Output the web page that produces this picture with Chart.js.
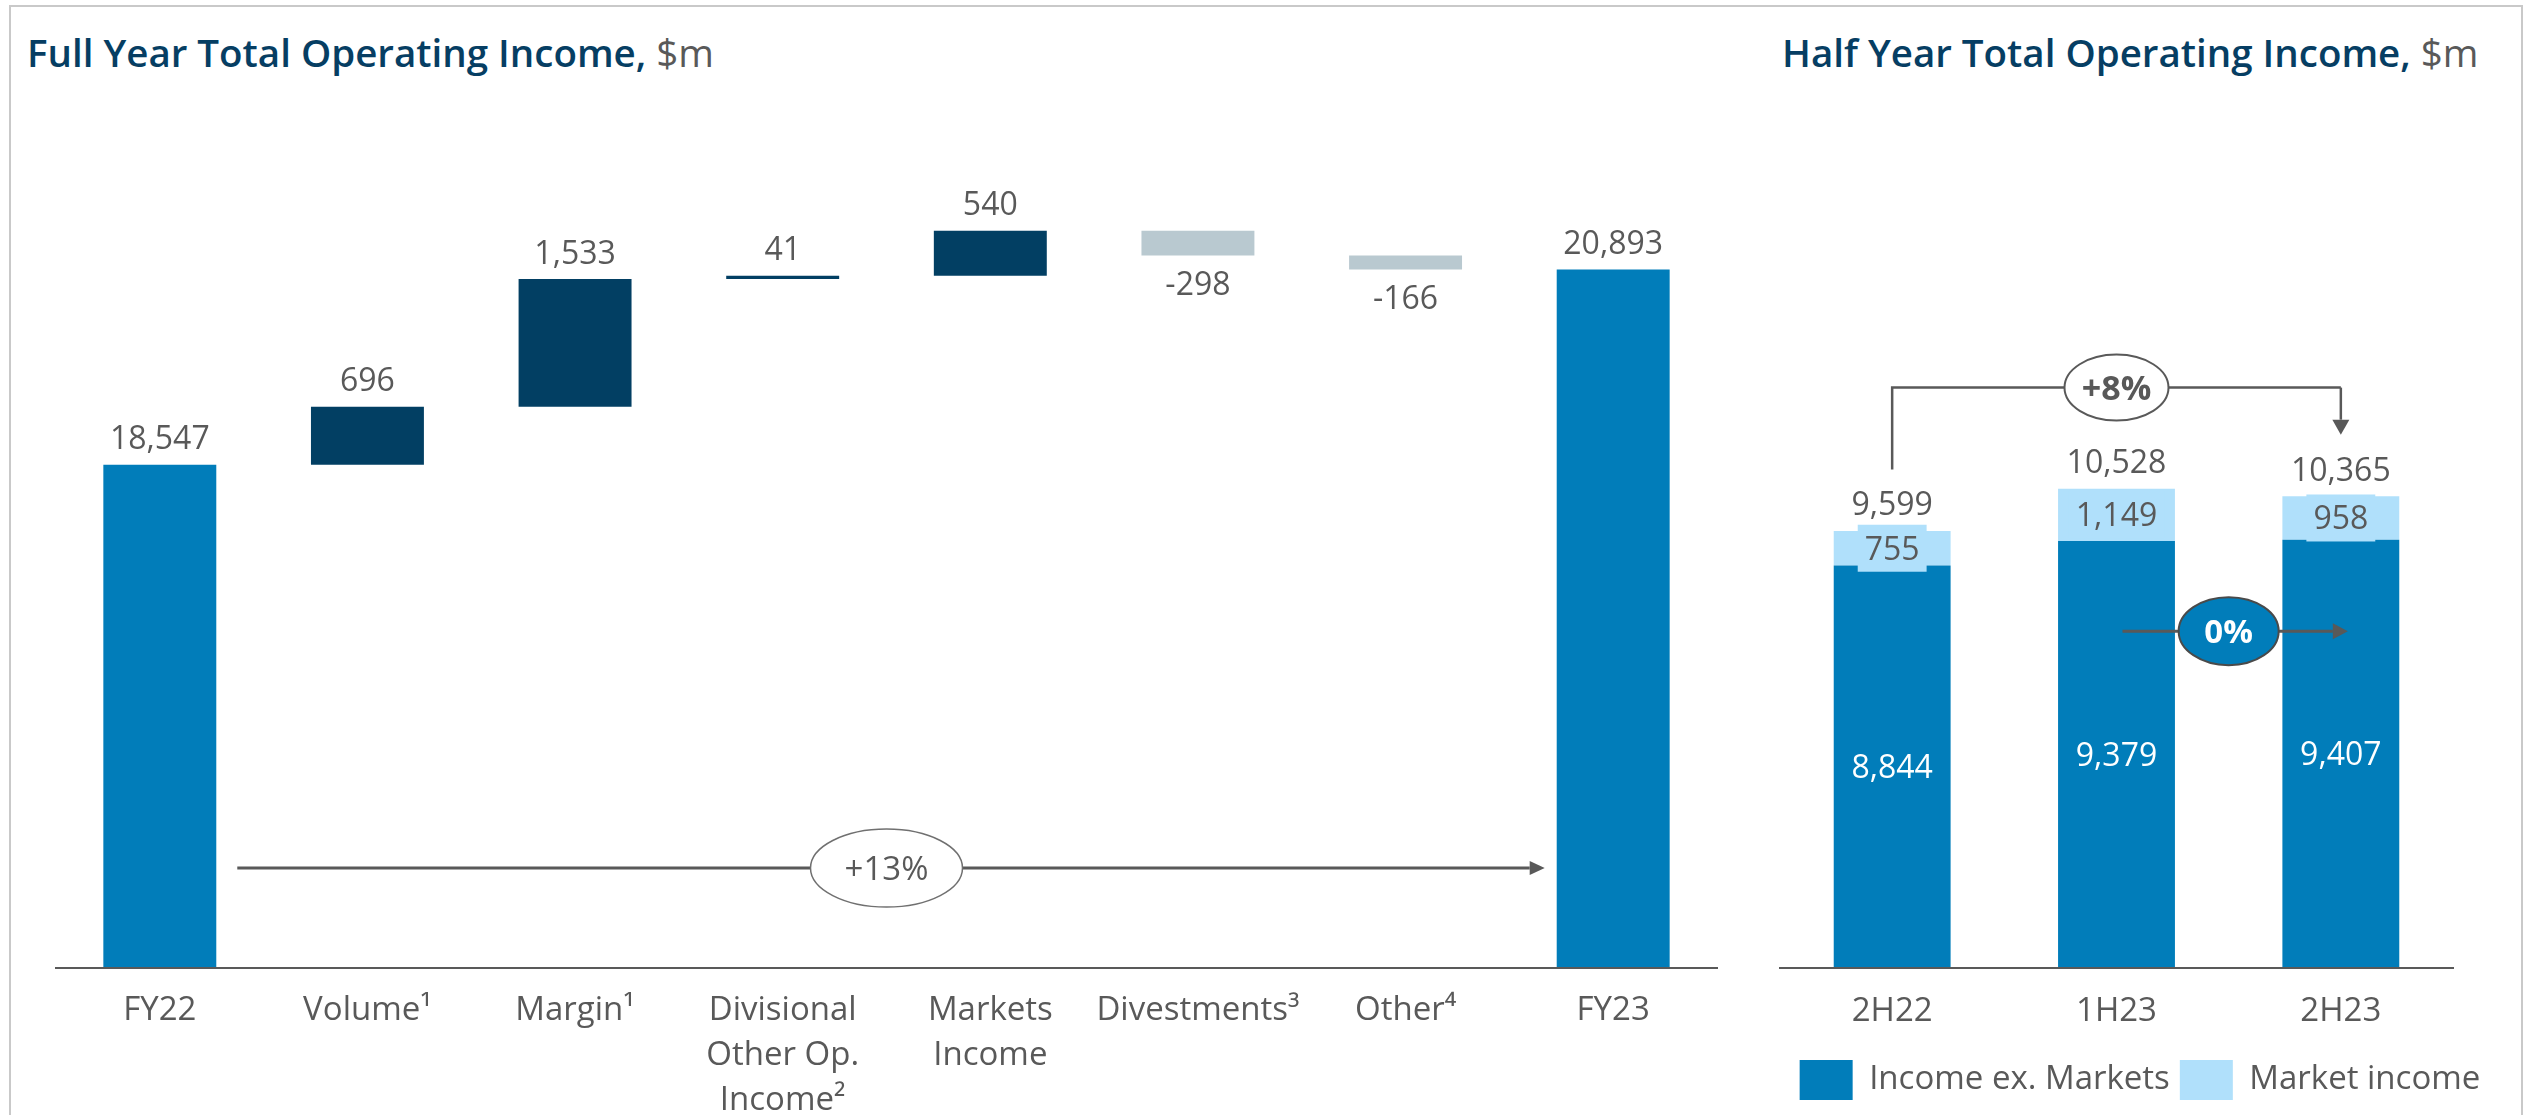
<!DOCTYPE html>
<html>
<head>
<meta charset="utf-8">
<script src="https://cdn.jsdelivr.net/npm/chart.js@4.4.1/dist/chart.umd.min.js"></script>
<style>
  html, body { margin: 0; padding: 0; background: #fff; }
  body { width: 2523px; height: 1115px; position: relative; overflow: hidden; font-family: 'Open Sans', sans-serif; }
  .frame { position: absolute; left: 9px; top: 5px; width: 2510px; height: 1200px; border: 2px solid #c9c9c9; }
  .title { position: absolute; top: 33px; font-size: 38.5px; line-height: 38.5px; font-weight: 600; color: #063e63; white-space: nowrap; }
  .title span { font-weight: 400; color: #595959; }
  canvas { position: absolute; top: 0; }
</style>
</head>
<body>
<div class="frame"></div>
<div class="title" style="left:27px">Full Year Total Operating Income, <span>$m</span></div>
<div class="title" style="left:1782px">Half Year Total Operating Income, <span>$m</span></div>
<canvas id="fyChart" width="1760" height="1115" style="left:0"></canvas>
<canvas id="hyChart" width="770" height="1115" style="left:1740px"></canvas>
<script>
// Full year bridge
const fyLabels = ['FY22', 'Volume¹', 'Margin¹', ['Divisional', 'Other Op.', 'Income²'], ['Markets', 'Income'], 'Divestments³', 'Other⁴', 'FY23'];
const fyValues = [18547, 696, 1533, 41, 540, -298, -166, 20893];
const fyKinds = ['total', 'step', 'step', 'step', 'step', 'step', 'step', 'total'];
const fyGrowth = '+13%';

// Half year split
const hyLabels = ['2H22', '1H23', '2H23'];
const incomeExMarkets = [8844, 9379, 9407];
const marketIncome = [755, 1149, 958];
const hyGrowth = '+8%';
const exMarketsGrowth = '0%';

const GRAY = '#595959';
const FONT = "'Open Sans', sans-serif";
Chart.defaults.font.family = FONT;
Chart.defaults.color = GRAY;

const FY_MIN = 12500;
const FY_MAX = 23000;

// waterfall: 各要素の [開始, 終了] を作る
let running = 0;
const fyBars = fyValues.map((v, i) => {
    if (fyKinds[i] === 'total') {
        running = v;
        return [FY_MIN, v];
    }
    const start = running;
    running += v;
    return [start, running];
});
const fyColors = fyValues.map((v, i) => fyKinds[i] === 'total' ? '#017dba' : (v >= 0 ? '#023f63' : '#b9c9d0'));

const fmt = v => v.toLocaleString('en-US');

function drawArrow(ctx, x0, y0, x1, y1, head, halfW, color, width) {
    const a = Math.atan2(y1 - y0, x1 - x0);
    const bx = x1 - Math.cos(a) * head;
    const by = y1 - Math.sin(a) * head;
    ctx.strokeStyle = color;
    ctx.lineWidth = width;
    ctx.beginPath();
    ctx.moveTo(x0, y0);
    ctx.lineTo(bx, by);
    ctx.stroke();
    ctx.fillStyle = color;
    ctx.beginPath();
    ctx.moveTo(x1, y1);
    ctx.lineTo(bx - Math.sin(a) * halfW, by + Math.cos(a) * halfW);
    ctx.lineTo(bx + Math.sin(a) * halfW, by - Math.cos(a) * halfW);
    ctx.closePath();
    ctx.fill();
}

function drawBadge(ctx, cx, cy, rx, ry, fill, stroke, lw, text, weight, size, color) {
    ctx.beginPath();
    ctx.ellipse(cx, cy, rx, ry, 0, 0, Math.PI * 2);
    ctx.fillStyle = fill;
    ctx.fill();
    ctx.lineWidth = lw;
    ctx.strokeStyle = stroke;
    ctx.stroke();
    ctx.font = `${weight} ${size}px ${FONT}`;
    ctx.fillStyle = color;
    ctx.textAlign = 'center';
    ctx.textBaseline = 'alphabetic';
    ctx.fillText(text, cx, cy + size * 0.357);
}

// 値ラベルと +13% の矢印
const fyOverlay = {
    id: 'fyOverlay',
    afterDatasetsDraw(chart) {
        const ctx = chart.ctx;
        const meta = chart.getDatasetMeta(0);
        ctx.save();
        ctx.font = `32px ${FONT}`;
        ctx.fillStyle = GRAY;
        ctx.textAlign = 'center';
        ctx.textBaseline = 'alphabetic';
        meta.data.forEach((bar, i) => {
            const v = fyValues[i];
            const top = Math.min(bar.y, bar.base);
            const bottom = Math.max(bar.y, bar.base);
            const cy = v < 0 ? bottom + 28 : top - 27;
            ctx.fillText(fmt(v), bar.x, cy + 32 * 0.357);
        });

        const y = chart.scales.y.getPixelForValue(13700);
        const first = meta.data[0];
        const last = meta.data[meta.data.length - 1];
        drawArrow(ctx, first.x + first.width / 2 + 21, y, last.x - last.width / 2 - 12, y, 15, 7, GRAY, 3);
        drawBadge(ctx, (first.x + last.x) / 2, y, 76, 39, '#fff', '#707070', 1.5, fyGrowth, 400, 33, GRAY);
        ctx.restore();
    }
};

new Chart(document.getElementById('fyChart').getContext('2d'), {
    type: 'bar',
    data: {
        labels: fyLabels,
        datasets: [{
            data: fyBars,
            backgroundColor: fyColors,
            borderWidth: 0,
            categoryPercentage: 1,
            barPercentage: 0.544
        }]
    },
    options: {
        responsive: false,
        animation: false,
        events: [],
        layout: { padding: { top: 94, left: 56, right: 43, bottom: 0 } },
        plugins: { legend: { display: false }, tooltip: { enabled: false } },
        scales: {
            x: {
                grid: { display: false, drawTicks: false },
                border: { display: true, color: GRAY, width: 2, z: 1 },
                ticks: {
                    color: GRAY,
                    font: { size: 33, lineHeight: 1.36 },
                    padding: 20,
                    autoSkip: false,
                    maxRotation: 0
                },
                afterFit: s => { s.height = 147; }
            },
            y: { display: false, min: FY_MIN, max: FY_MAX }
        }
    },
    plugins: [fyOverlay]
});

// 半期の値ラベル, +8% のブラケット, 0% の矢印
const hyOverlay = {
    id: 'hyOverlay',
    afterDatasetsDraw(chart) {
        const ctx = chart.ctx;
        const yScale = chart.scales.y;
        const base = chart.getDatasetMeta(0).data;
        const mkt = chart.getDatasetMeta(1).data;
        ctx.save();
        ctx.textAlign = 'center';
        ctx.textBaseline = 'alphabetic';
        ctx.font = `32px ${FONT}`;

        // 0% arrow
        const ay = yScale.getPixelForValue(7400);
        drawArrow(ctx, base[1].x + 6, ay, base[2].x + 7, ay, 15, 8, GRAY, 3);
        drawBadge(ctx, (base[1].x + base[2].x) / 2, ay, 50, 34, '#017dba', '#4a4a4a', 2, exMarketsGrowth, 700, 33, '#fff');

        ctx.font = `32px ${FONT}`;
        ctx.textAlign = 'center';
        base.forEach((bar, i) => {
            ctx.fillStyle = '#fff';
            ctx.fillText(fmt(incomeExMarkets[i]), bar.x, (bar.y + bar.base) / 2 + 32 * 0.357);
        });
        const labelTops = [];
        mkt.forEach((bar, i) => {
            const text = fmt(marketIncome[i]);
            const cy = (bar.y + bar.base) / 2;
            const w = ctx.measureText(text).width + 14;
            ctx.fillStyle = '#b0e0fb';
            ctx.fillRect(bar.x - w / 2, cy - 23.5, w, 47);
            ctx.fillStyle = GRAY;
            ctx.fillText(text, bar.x, cy + 32 * 0.357);
            const ty = bar.y - 27;
            ctx.fillText(fmt(incomeExMarkets[i] + marketIncome[i]), bar.x, ty + 32 * 0.357);
            labelTops.push(ty - 11.5);
        });

        // +8% bracket from 2H22 to 2H23
        const by = yScale.getPixelForValue(12750);
        const x0 = mkt[0].x;
        const x2 = mkt[2].x;
        ctx.strokeStyle = GRAY;
        ctx.lineWidth = 2.5;
        ctx.beginPath();
        ctx.moveTo(x0, labelTops[0] - 23);
        ctx.lineTo(x0, by);
        ctx.lineTo(x2, by);
        ctx.stroke();
        drawArrow(ctx, x2, by, x2, labelTops[2] - 23, 15, 8.5, GRAY, 2.5);
        drawBadge(ctx, mkt[1].x, by, 52, 33, '#fff', GRAY, 2, hyGrowth, 700, 34, GRAY);
        ctx.restore();
    }
};

new Chart(document.getElementById('hyChart').getContext('2d'), {
    type: 'bar',
    data: {
        labels: hyLabels,
        datasets: [
            { label: 'Income ex. Markets', data: incomeExMarkets, backgroundColor: '#017dba', borderWidth: 0 },
            { label: 'Market income', data: marketIncome, backgroundColor: '#b0e0fb', borderWidth: 0 }
        ]
    },
    options: {
        responsive: false,
        animation: false,
        events: [],
        datasets: { bar: { categoryPercentage: 1, barPercentage: 0.521 } },
        layout: { padding: { top: 94, left: 40, right: 10, bottom: 5 } },
        plugins: {
            tooltip: { enabled: false },
            legend: {
                position: 'bottom',
                align: 'center',
                labels: {
                    boxWidth: 53,
                    boxHeight: 40,
                    padding: 10,
                    color: GRAY,
                    font: { size: 33 }
                }
            }
        },
        scales: {
            x: {
                stacked: true,
                grid: { display: false, drawTicks: false },
                border: { display: true, color: GRAY, width: 2, z: 1 },
                ticks: { color: GRAY, font: { size: 33, lineHeight: 1.2 }, padding: 24 },
                afterFit: s => { s.height = 82; }
            },
            y: {
                stacked: true,
                position: 'right',
                min: 0,
                max: 19200,
                grid: { display: false },
                border: { display: false },
                ticks: { display: false },
                afterFit: s => { s.width = 47; }
            }
        }
    },
    plugins: [hyOverlay]
});
</script>
</body>
</html>
